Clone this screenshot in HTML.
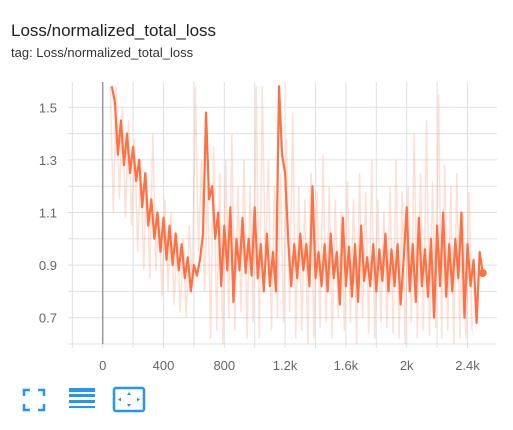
<!DOCTYPE html>
<html><head><meta charset="utf-8"><style>
body{margin:0;width:513px;height:430px;background:#fff;font-family:"Liberation Sans",sans-serif;overflow:hidden;position:relative}
.t{position:absolute;left:11px;top:21px;font-size:17px;color:#212121}
.s{position:absolute;left:11px;top:45px;font-size:13px;color:#333}
</style></head><body>
<div class="t">Loss/normalized_total_loss</div>
<div class="s">tag: Loss/normalized_total_loss</div>
<svg id="c" width="513" height="430" style="position:absolute;left:0;top:0"></svg>
<script>
const xTicks=[0,400,800,1200,1600,2000,2400];
const xTickLabels=["0","400","800","1.2k","1.6k","2k","2.4k"];
const yTicks=[0.7,0.9,1.1,1.3,1.5];
const yTickLabels=["0.7","0.9","1.1","1.3","1.5"];
const smoothStart=60, smoothStep=20;
const smoothVals=[1.58,1.52,1.32,1.45,1.28,1.40,1.25,1.35,1.22,1.30,1.12,1.25,1.05,1.15,1.00,1.10,0.95,1.08,0.92,1.05,0.90,1.02,0.88,0.98,0.85,0.93,0.80,0.90,0.86,0.92,1.02,1.48,1.15,1.20,1.00,1.10,0.82,1.05,0.88,1.12,0.76,1.00,0.88,1.08,0.87,1.00,0.86,1.12,0.85,0.98,0.80,1.02,0.82,0.95,0.80,1.58,1.32,1.25,1.00,0.82,0.98,0.85,1.02,0.88,0.98,0.82,1.20,0.85,0.95,0.82,0.98,0.80,1.02,0.85,0.95,0.75,1.08,0.82,0.97,0.78,0.98,0.76,1.05,0.84,0.93,0.82,0.98,0.80,0.96,0.84,1.02,0.80,0.96,0.82,0.98,0.75,0.92,1.12,0.80,0.98,0.76,1.08,0.82,0.96,0.78,1.00,0.70,1.05,0.82,1.10,0.78,0.98,0.80,1.00,0.85,1.10,0.70,0.98,0.82,0.92,0.68,0.95,0.87];
const rawStart=50, rawStep=20;
const rawVals=[1.58,1.10,1.58,1.15,1.50,1.08,1.45,1.05,1.38,0.95,1.30,0.88,1.25,0.85,1.40,0.88,1.10,0.78,1.15,0.80,1.10,0.75,1.02,0.72,1.00,0.70,1.05,0.82,1.58,0.95,1.30,0.80,1.20,0.62,1.35,0.65,1.25,0.60,1.30,0.70,1.40,0.65,1.20,0.72,1.30,0.62,1.20,0.68,1.58,0.62,1.58,0.90,1.30,0.65,1.20,0.70,1.25,0.68,1.38,0.72,1.48,0.62,1.20,0.65,1.15,0.60,1.25,0.62,1.18,0.66,1.32,0.68,1.20,0.62,1.15,0.70,1.10,0.65,1.22,0.68,1.15,0.60,1.25,0.70,1.18,0.64,1.30,0.62,1.15,0.68,1.10,0.66,1.20,0.64,1.30,0.62,1.18,0.60,1.20,0.68,1.40,0.62,1.25,0.65,1.45,0.63,1.22,0.66,1.55,0.62,1.28,0.65,1.20,0.60,1.25,0.62,1.10,0.62,1.18,0.65];
const L=72,R=497,T=82,B=344;
const sx=v=>102.7+v*(60.8/400);
const sy=v=>317.7-(v-0.7)*263;
const svg=document.getElementById('c');const NS='http://www.w3.org/2000/svg';
function mk(tag,at){const e=document.createElementNS(NS,tag);for(const k in at)e.setAttribute(k,at[k]);svg.appendChild(e);return e;}
const defs=mk('defs',{});const cp=document.createElementNS(NS,'clipPath');cp.setAttribute('id','clp');
const r=document.createElementNS(NS,'rect');r.setAttribute('x',L);r.setAttribute('y',T);r.setAttribute('width',R-L);r.setAttribute('height',B-T);cp.appendChild(r);defs.appendChild(cp);
for(let v=-200;v<=2600;v+=200){const x=sx(v);if(x<L-1||x>R)continue;
const g=mk('line',{x1:x,x2:x,y1:T,y2:B+4,stroke:'#e0e0e0','stroke-width':1});

}
for(let v=0.6;v<=1.55;v+=0.1){const y=sy(v);
const g=mk('line',{x1:L-4,x2:R,y1:y,y2:y,stroke:'#e0e0e0','stroke-width':1});

}
const ax=mk('line',{x1:sx(0),x2:sx(0),y1:T,y2:B,stroke:'#999','stroke-width':1.5});


xTicks.forEach((v,i)=>{const t=mk('text',{x:sx(v),y:370,'text-anchor':'middle','font-size':13,fill:'#666'});t.textContent=xTickLabels[i];

});
yTicks.forEach((v,i)=>{const t=mk('text',{x:57,y:sy(v)+5,'text-anchor':'end','font-size':13,fill:'#666'});t.textContent=yTickLabels[i];

});
const raw=mk('polyline',{points:rawVals.map((v,i)=>sx(rawStart+i*rawStep)+','+sy(v)).join(' '),fill:'none',stroke:'rgba(255,112,67,0.22)','stroke-width':1.5,'clip-path':'url(#clp)'});


const sm=mk('polyline',{points:smoothVals.map((v,i)=>sx(smoothStart+i*smoothStep)+','+sy(v)).join(' '),fill:'none',stroke:'#ff7043','stroke-width':2.2,'stroke-linejoin':'round','clip-path':'url(#clp)'});


const lastI=smoothVals.length-1;
const dot=mk('circle',{cx:sx(smoothStart+lastI*smoothStep),cy:sy(smoothVals[lastI]),r:4,fill:'#ff7043'});


</script>
<svg width="513" height="430" style="position:absolute;left:0;top:0;pointer-events:none">
<g fill="none" stroke="#2196f3" stroke-width="2.5">
<path d="M24 396v-6h6M38 390h6v6M44 404v6h-6M30 410h-6v-6"/></g>
<g fill="#2196f3">
<rect x="69" y="388" width="26" height="4"/><rect x="69" y="394" width="26" height="3"/><rect x="69" y="400" width="26" height="3"/><rect x="69" y="406" width="26" height="2"/></g>
<g>
<rect x="114" y="388" width="30" height="23" rx="2" fill="none" stroke="#2196f3" stroke-width="2.5"/>
<path d="M129 392l-2 3h4zM129 407l-2-3h4zM118 399.5l3-2v4zM140 399.5l-3-2v4z" fill="#2196f3"/></g>
</svg>
</body></html>
